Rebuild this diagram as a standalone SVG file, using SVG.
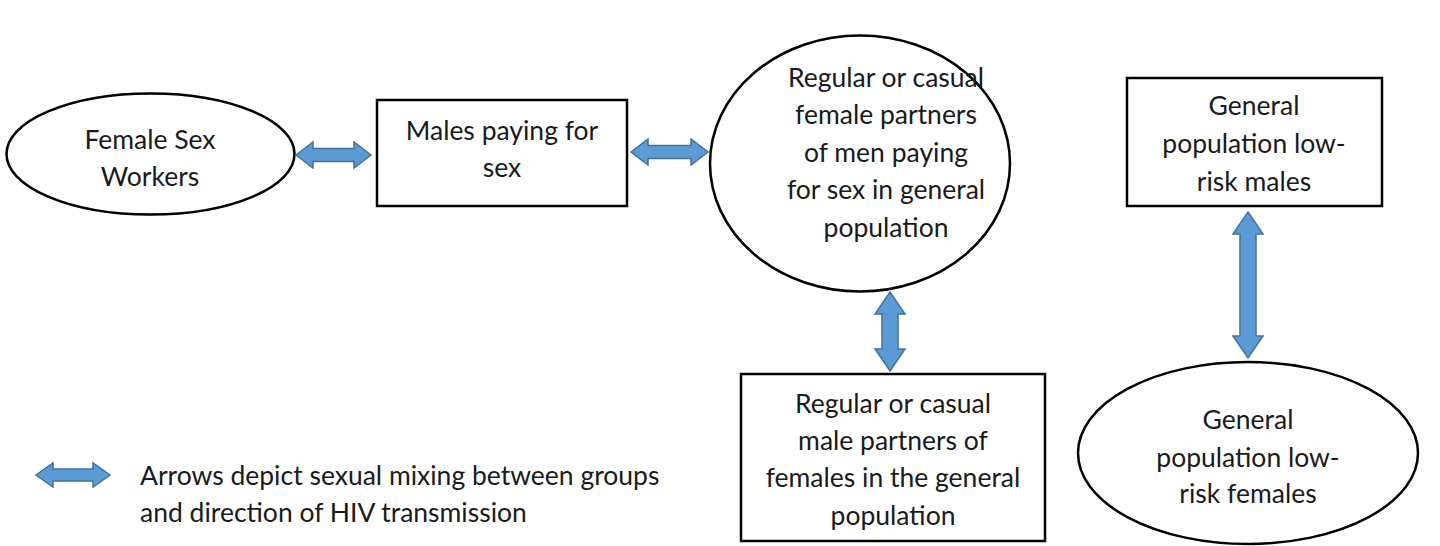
<svg xmlns="http://www.w3.org/2000/svg" width="1440" height="546" viewBox="0 0 1440 546">
<style>
.n{fill:#fff;stroke:#000;stroke-width:2.5}
.t{font-family:Lato,"Liberation Sans",sans-serif;font-size:26.5px;fill:#1a1a1a;text-anchor:middle}
.l{font-family:Lato,"Liberation Sans",sans-serif;font-size:26.5px;fill:#1a1a1a}
.a{fill:#5B9BD5;stroke:#41719C;stroke-width:1.5;stroke-linejoin:miter}
</style>
<rect width="1440" height="546" fill="#fff"/>
<g id="fsw"><ellipse class="n" cx="150.5" cy="154" rx="144" ry="60.5"/>
<text class="t" x="150" y="149">Female Sex</text><text class="t" x="150" y="186">Workers</text></g>
<g id="mps"><rect class="n" x="377" y="100" width="250" height="106"/>
<text class="t" x="502" y="140">Males paying for</text><text class="t" x="502" y="177">sex</text></g>
<g id="fp"><ellipse class="n" cx="860" cy="163.5" rx="150" ry="128"/>
<text class="t" x="886" y="87">Regular or casual</text>
<text class="t" x="886" y="124">female partners</text>
<text class="t" x="886" y="162">of men paying</text>
<text class="t" x="886" y="199">for sex in general</text>
<text class="t" x="886" y="237">population</text></g>
<g id="mp"><rect class="n" x="741" y="374" width="304" height="167"/>
<text class="t" x="893" y="413">Regular or casual</text>
<text class="t" x="893" y="450">male partners of</text>
<text class="t" x="893" y="487">females in the general</text>
<text class="t" x="893" y="525">population</text></g>
<g id="glm"><rect class="n" x="1127" y="78" width="255" height="128"/>
<text class="t" x="1254" y="115">General</text>
<text class="t" x="1254" y="153">population low-</text>
<text class="t" x="1254" y="191">risk males</text></g>
<g id="glf"><ellipse class="n" cx="1248" cy="453" rx="170" ry="91"/>
<text class="t" x="1248" y="429">General</text>
<text class="t" x="1248" y="467">population low-</text>
<text class="t" x="1248" y="503">risk females</text></g>
<g id="connectors">
<path class="a" d="M296,155 L313,142 L313,148.5 L354,148.5 L354,142 L371,155 L354,168 L354,161.5 L313,161.5 L313,168 Z"/>
<path class="a" d="M631,152 L648,139 L648,145.5 L691,145.5 L691,139 L708,152 L691,165 L691,158.5 L648,158.5 L648,165 Z"/>
<path class="a" d="M890,292 L905,314 L898,314 L898,349 L905,349 L890,371 L875,349 L882,349 L882,314 L875,314 Z"/>
<path class="a" d="M1248,212 L1263,234 L1256,234 L1256,336 L1263,336 L1248,358 L1233,336 L1240,336 L1240,234 L1233,234 Z"/>
</g>
<g id="legend">
<path class="a" d="M36,475 L53,463 L53,469 L93,469 L93,463 L110,475 L93,487 L93,481 L53,481 L53,487 Z"/>
<text class="l" x="140" y="485">Arrows depict sexual mixing between groups</text>
<text class="l" x="140" y="522">and direction of HIV transmission</text>
</g>
</svg>
